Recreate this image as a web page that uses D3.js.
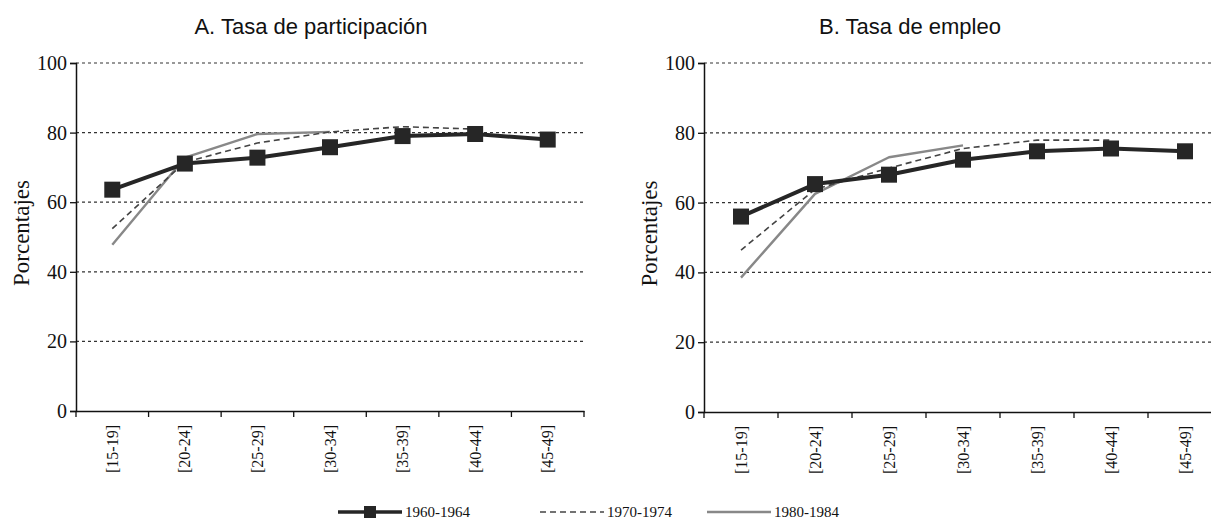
<!DOCTYPE html>
<html><head><meta charset="utf-8">
<script src="https://cdn.jsdelivr.net/npm/d3@7/dist/d3.min.js"></script>
<style>body{margin:0;background:#fff}svg{display:block}</style>
</head><body>
<svg id="c" width="1211" height="522"></svg>
<script>
const categories = ["[15-19]","[20-24]","[25-29]","[30-34]","[35-39]","[40-44]","[45-49]"];
const yTicks = [0,20,40,60,80,100];
const seriesNames = ["1960-1964","1970-1974","1980-1984"];
const titles = ["A. Tasa de participación","B. Tasa de empleo"];
const yLabel = "Porcentajes";
// Panel A: participation rate
const partic1960 = [63.6,71.1,72.8,75.8,79.0,79.6,78.0];
const partic1970 = [52.4,71.5,77.0,80.2,81.7,81.0];
const partic1980 = [47.8,72.8,79.6,80.2];
// Panel B: employment rate
const empleo1960 = [56.0,65.3,68.0,72.3,74.7,75.5,74.7];
const empleo1970 = [46.4,63.8,69.9,75.5,77.9,77.9];
const empleo1980 = [38.5,62.5,73.0,76.4];

const svg = d3.select("#c");
const serif = "'Liberation Serif','Times New Roman',serif";
const sans = "'Liberation Sans',Arial,sans-serif";

const panels = [
  {x0:76, x1:584, y0:411, y1:63, title:titles[0], tx:311, lx:21, data:[partic1960,partic1970,partic1980]},
  {x0:704, x1:1222, y0:412, y1:63, title:titles[1], tx:910, lx:649, data:[empleo1960,empleo1970,empleo1980]}
];
const styles = [
  {stroke:"#262626", width:4, dash:null, marker:true},
  {stroke:"#444", width:1.6, dash:"6,4", marker:false},
  {stroke:"#888", width:2.4, dash:null, marker:false}
];

panels.forEach(p => {
  const x = d3.scaleBand().domain(categories).range([p.x0,p.x1]);
  const y = d3.scaleLinear().domain([0,100]).range([p.y0,p.y1]);
  const g = svg.append("g");
  // gridlines
  g.selectAll(".grid").data(yTicks.filter(d=>d>0)).join("line")
    .attr("x1",p.x0).attr("x2",p.x1).attr("y1",d=>y(d)).attr("y2",d=>y(d))
    .attr("stroke","#333").attr("stroke-width",1.2).attr("stroke-dasharray","3,3");
  // y axis
  const ya = g.append("g").attr("transform",`translate(${p.x0},0)`)
    .call(d3.axisLeft(y).tickValues(yTicks).tickSize(6).tickPadding(3));
  ya.select(".domain").attr("stroke","#111").attr("stroke-width",1.5);
  ya.selectAll(".tick line").attr("stroke","#111").attr("stroke-width",1.3);
  ya.selectAll("text").attr("font-family",serif).attr("font-size",20).attr("fill","#111");
  // x axis
  const xa = g.append("g").attr("transform",`translate(0,${p.y0})`)
    .call(d3.axisBottom(x).tickSize(0).tickPadding(0));
  xa.select(".domain").attr("stroke","#111").attr("stroke-width",1.5);
  xa.selectAll(".tick line").remove();
  xa.selectAll("text").attr("font-family",serif).attr("font-size",16).attr("fill","#111")
    .attr("transform","rotate(-90)").attr("text-anchor","end").attr("dy","0.35em")
    .attr("x",-14).attr("y",0);
  // boundary ticks
  const bounds = categories.map(c=>x(c)).concat([p.x1]);
  g.selectAll(".bt").data(bounds).join("line")
    .attr("x1",d=>d).attr("x2",d=>d).attr("y1",p.y0).attr("y2",p.y0+6)
    .attr("stroke","#111").attr("stroke-width",1.3);
  // lines (draw 1980, 1970, then 1960 on top)
  [2,1,0].forEach(i => {
    const vals = p.data[i];
    const s = styles[i];
    const line = d3.line().x((d,j)=>x(categories[j])+x.bandwidth()/2).y(d=>y(d));
    g.append("path").datum(vals).attr("d",line).attr("fill","none")
      .attr("stroke",s.stroke).attr("stroke-width",s.width)
      .attr("stroke-dasharray",s.dash).attr("stroke-linejoin","round");
    if (s.marker) {
      g.selectAll(".m"+i).data(vals).join("rect")
        .attr("x",(d,j)=>x(categories[j])+x.bandwidth()/2-8)
        .attr("y",d=>y(d)-8).attr("width",16).attr("height",16)
        .attr("fill","#262626");
    }
  });
  // title
  svg.append("text").attr("x",p.tx).attr("y",34).attr("text-anchor","middle")
    .attr("font-family",sans).attr("font-size",22).attr("fill","#111").text(p.title);
  // y label
  svg.append("text").attr("transform",`translate(${p.lx},${(p.y0+p.y1)/2-4}) rotate(-90)`)
    .attr("text-anchor","middle").attr("dy","0.35em")
    .attr("font-family",serif).attr("font-size",23).attr("fill","#111").text(yLabel);
});

// legend
const legX = [338, 540, 707];
const ly = 512;
seriesNames.forEach((n,i) => {
  const s = styles[i];
  const g = svg.append("g");
  g.append("line").attr("x1",legX[i]).attr("x2",legX[i]+64).attr("y1",ly).attr("y2",ly)
    .attr("stroke",s.stroke).attr("stroke-width",s.width===4?3.5:s.width).attr("stroke-dasharray",s.dash);
  if (s.marker) g.append("rect").attr("x",legX[i]+26).attr("y",ly-6).attr("width",12).attr("height",12).attr("fill","#262626");
  g.append("text").attr("x",legX[i]+67).attr("y",ly).attr("dy","0.35em")
    .attr("font-family",serif).attr("font-size",15).attr("fill","#111").text(n);
});
</script>
</body></html>
